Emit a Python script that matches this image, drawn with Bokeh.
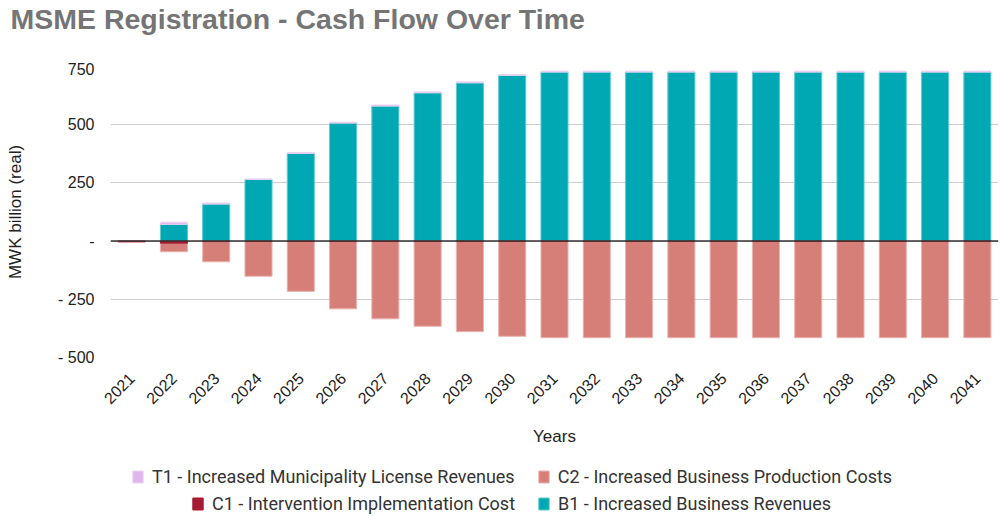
import math
from bokeh.plotting import figure
from bokeh.layouts import column
from bokeh.models import (FactorRange, FixedTicker, Span, Legend, LegendItem,
                          ColumnDataSource, Title)
from bokeh.embed import file_html
from bokeh.resources import INLINE

years = [str(y) for y in range(2021, 2042)]
b1 = [0, 72, 159, 265, 377, 507, 580, 637, 680, 712, 726, 726, 726, 726, 726,
      726, 726, 726, 726, 726, 726]
t1 = [0, 9, 5, 2, 4, 4, 5, 4, 4, 4, 4, 4, 4, 4, 4, 4, 4, 4, 4, 4, 4]
c1 = [-3, -9, -2, -1, -1, -1, -1, -1, -1, -1, -1, -1, -1, -1, -1, -1, -1, -1,
      -1, -1, -1]
c2 = [0, -37, -87, -150, -215, -290, -333, -365, -388, -408, -414, -414, -414,
      -414, -414, -414, -414, -414, -414, -414, -414]

y_ticks = [-500, -250, 0, 250, 500, 750]
y_tick_labels = ["- 500", "- 250", "-", "250", "500", "750"]

series_names = ["T1 - Increased Municipality License Revenues",
                "C2 - Increased Business Production Costs",
                "C1 - Intervention Implementation Cost",
                "B1 - Increased Business Revenues"]

COL_B1, LN_B1 = "#00a8b4", "#5fcbd2"
COL_T1, LN_T1 = "#dfb7ea", "#ecd3f2"
COL_C1, LN_C1 = "#a61b31", "#a61b31"
COL_C2, LN_C2 = "#d67f79", "#eab3af"

FONT = "Liberation Sans"
W = 1003
LEFT = 110


def bare(fig):
    fig.axis.visible = False
    fig.grid.visible = False
    fig.outline_line_color = None
    return fig


# ---- header with title ----
header = bare(figure(width=W, height=60, output_backend="svg",
                     toolbar_location=None, min_border=0,
                     min_border_left=LEFT, min_border_right=5,
                     x_range=(0, 1), y_range=(0, 1)))
header.title = Title(text="MSME Registration - Cash Flow Over Time",
                     text_font=FONT, text_font_size="28.5px",
                     text_font_style="bold", text_color="#757575",
                     offset=-(LEFT - 10), standoff=0)

# ---- main chart ----
src = ColumnDataSource(dict(
    x=years,
    b1_bot=[0] * len(years), b1_top=b1,
    t1_bot=b1, t1_top=[a + b for a, b in zip(b1, t1)],
    c1_bot=[0] * len(years), c1_top=c1,
    c2_bot=c1, c2_top=[a + b for a, b in zip(c1, c2)],
))

p = figure(x_range=FactorRange(*years, range_padding=0),
           y_range=(-500, 750),
           width=W, height=392,
           output_backend="svg", toolbar_location=None,
           min_border_left=LEFT, min_border_right=5,
           min_border_top=6, min_border_bottom=95)

w = 0.64
p.vbar(x="x", bottom="b1_bot", top="b1_top", width=w, source=src,
       fill_color=COL_B1, line_color=LN_B1, line_width=1)
p.vbar(x="x", bottom="t1_bot", top="t1_top", width=w, source=src,
       fill_color=COL_T1, line_color=LN_T1, line_width=1)
p.vbar(x="x", bottom="c2_bot", top="c2_top", width=w, source=src,
       fill_color=COL_C2, line_color=LN_C2, line_width=1)
p.vbar(x="x", bottom="c1_bot", top="c1_top", width=w, source=src,
       fill_color=COL_C1, line_color=LN_C1, line_width=1)

p.add_layout(Span(location=0, dimension="width", line_color="#333333",
                  line_width=1.5))

p.outline_line_color = None
p.xgrid.grid_line_color = None
p.ygrid.grid_line_color = "#cccccc"
p.ygrid.grid_line_width = 1

p.yaxis.ticker = FixedTicker(ticks=y_ticks)
p.yaxis.major_label_overrides = {t: l for t, l in zip(y_ticks, y_tick_labels)}
p.yaxis.axis_label = "MWK billion (real)"
p.xaxis.axis_label = "Years"
for ax in (p.xaxis, p.yaxis):
    ax.axis_line_color = None
    ax.major_tick_line_color = None
    ax.minor_tick_line_color = None
    ax.major_label_text_font = FONT
    ax.major_label_text_font_size = "16px"
    ax.major_label_text_color = "#222222"
    ax.axis_label_text_font = FONT
    ax.axis_label_text_font_size = "17px"
    ax.axis_label_text_font_style = "normal"
    ax.axis_label_text_color = "#222222"
p.yaxis.major_label_standoff = 10
p.yaxis.axis_label_standoff = 30
p.xaxis.major_label_orientation = math.pi / 4
p.xaxis.major_label_standoff = 12
p.xaxis.axis_label_standoff = 15

# ---- legend strip ----
lf = bare(figure(width=W, height=64, output_backend="svg",
                 toolbar_location=None, min_border=0,
                 min_border_left=LEFT, min_border_right=5,
                 x_range=(0, 1), y_range=(0, 1)))
legend_colors = [(COL_T1, LN_T1), (COL_C2, LN_C2), (COL_C1, LN_C1), (COL_B1, LN_B1)]
legend_renderers = [
    lf.quad(left=[-6], right=[-5], bottom=[-6], top=[-5],
            fill_color=fc, line_color=lc, line_width=1)
    for fc, lc in legend_colors
]


def make_legend(idx, loc):
    return Legend(items=[LegendItem(label=series_names[i],
                                    renderers=[legend_renderers[i]]) for i in idx],
                  orientation="horizontal", location=loc,
                  label_text_font="Roboto", label_text_font_size="18px",
                  label_text_color="#333333", glyph_width=13, glyph_height=15,
                  label_height=19, padding=2, margin=0, spacing=22,
                  border_line_color=None, background_fill_alpha=0,
                  label_standoff=8)


lf.add_layout(make_legend([0, 1], (133 - LEFT - 2, 29)))
lf.add_layout(make_legend([2, 3], (193 - LEFT - 2, 2)))

layout = column(header, p, lf, spacing=0)
open("out.html", "w").write(file_html(layout, INLINE))
